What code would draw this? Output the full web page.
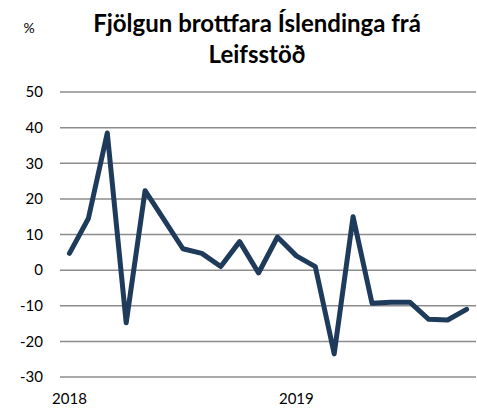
<!DOCTYPE html>
<html>
<head>
<meta charset="utf-8">
<script src="https://cdn.jsdelivr.net/npm/d3@7"></script>
<style>
	body { margin: 0; background: #fff; }
	svg text { font-family: Lato, "Open Sans", sans-serif; fill: #000; }
</style>
</head>
<body>
<div id="chart"></div>
<script>
// monthly values, Jan 2018 - Oct 2019
const months = [
	"2018-01", "2018-02", "2018-03", "2018-04", "2018-05", "2018-06",
	"2018-07", "2018-08", "2018-09", "2018-10", "2018-11", "2018-12",
	"2019-01", "2019-02", "2019-03", "2019-04", "2019-05", "2019-06",
	"2019-07", "2019-08", "2019-09", "2019-10",
]
const values = [
	4.7, 14.5, 38.5, -14.8, 22.3, 14.2, 6, 4.7, 1, 8, -0.8, 9.3,
	4, 1, -23.5, 15, -9.3, -9, -9, -13.8, -14, -11,
]
const yTicks = [50, 40, 30, 20, 10, 0, -10, -20, -30]
const yearLabels = [
	{ month: "2018-01", label: "2018" },
	{ month: "2019-01", label: "2019" },
]
const titleLines = ["Fjölgun brottfara Íslendinga frá", "Leifsstöð"]

const width = 477
const height = 409
const margin = { top: 92, right: 1, bottom: 32, left: 60 }

const svg = d3
	.select("#chart")
	.append("svg")
	.attr("width", width)
	.attr("height", height)

const x = d3
	.scaleBand()
	.domain(months)
	.range([margin.left, width - margin.right])

const y = d3
	.scaleLinear()
	.domain([-30, 50])
	.range([height - margin.bottom, margin.top])

// gridlines
svg.append("g")
	.selectAll("line")
	.data(yTicks)
	.join("line")
	.attr("x1", margin.left)
	.attr("x2", width - margin.right)
	.attr("y1", (d) => y(d))
	.attr("y2", (d) => y(d))
	.attr("stroke", "#8c8c8c")
	.attr("stroke-width", 1.5)

// y tick labels
svg.append("g")
	.selectAll("text")
	.data(yTicks)
	.join("text")
	.attr("x", 43)
	.attr("y", (d) => y(d))
	.attr("dy", "0.35em")
	.attr("text-anchor", "end")
	.attr("font-size", 15)
	.text((d) => d)

// year labels
svg.append("g")
	.selectAll("text")
	.data(yearLabels)
	.join("text")
	.attr("x", (d) => x(d.month) + x.bandwidth() / 2)
	.attr("y", 404)
	.attr("text-anchor", "middle")
	.attr("font-size", 15)
	.text((d) => d.label)

// line
const line = d3
	.line()
	.x((d, i) => x(months[i]) + x.bandwidth() / 2)
	.y((d) => y(d))

svg.append("path")
	.datum(values)
	.attr("fill", "none")
	.attr("stroke", "#1f3b5b")
	.attr("stroke-width", 5)
	.attr("stroke-linejoin", "round")
	.attr("stroke-linecap", "round")
	.attr("d", line)

// title
svg.append("g")
	.selectAll("text")
	.data(titleLines)
	.join("text")
	.attr("x", 257)
	.attr("y", (d, i) => 32 + i * 31)
	.attr("text-anchor", "middle")
	.attr("font-size", 24)
	.attr("font-weight", "bold")
	.text((d) => d)

svg.append("text")
	.attr("x", 29)
	.attr("y", 33)
	.attr("text-anchor", "middle")
	.attr("font-size", 14)
	.text("%")
</script>
</body>
</html>
